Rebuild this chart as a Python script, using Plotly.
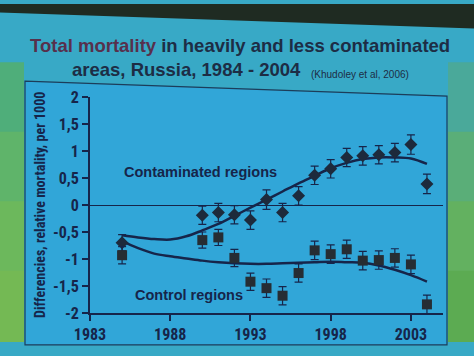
import plotly.graph_objects as go

# ---- data ----
years = [1985, 1990, 1991, 1992, 1993, 1994, 1995, 1996, 1997, 1998, 1999, 2000, 2001, 2002, 2003, 2004]
contaminated = [-0.70, -0.19, -0.14, -0.18, -0.28, 0.10, -0.14, 0.17, 0.55, 0.67, 0.88, 0.91, 0.93, 0.97, 1.12, 0.39]
contaminated_err = [0.15, 0.17, 0.17, 0.17, 0.17, 0.18, 0.17, 0.17, 0.17, 0.17, 0.17, 0.17, 0.17, 0.17, 0.18, 0.18]
control = [-0.93, -0.65, -0.60, -0.98, -1.42, -1.54, -1.68, -1.26, -0.84, -0.91, -0.82, -1.03, -1.02, -0.98, -1.10, -1.84]
control_err = [0.16, 0.15, 0.15, 0.16, 0.16, 0.17, 0.17, 0.17, 0.17, 0.17, 0.17, 0.17, 0.17, 0.17, 0.17, 0.17]

fit_years = list(range(1985, 2005))
contaminated_fit = [-0.56, -0.60, -0.63, -0.64, -0.58, -0.47, -0.35, -0.20, -0.05, 0.10, 0.25, 0.40,
                    0.54, 0.68, 0.78, 0.85, 0.88, 0.88, 0.86, 0.76]
control_fit = [-0.67, -0.80, -0.90, -0.95, -0.99, -1.03, -1.06, -1.08, -1.09, -1.09, -1.08, -1.07,
               -1.06, -1.05, -1.06, -1.07, -1.12, -1.20, -1.30, -1.42]

y_tickvals = [-2, -1.5, -1, -0.5, 0, 0.5, 1, 1.5, 2]
y_ticktext = ["-2", "-1,5", "-1", "-0,5", "0", "0,5", "1", "1,5", "2"]
x_tickvals = [1983, 1988, 1993, 1998, 2003]
x_ticktext = ["1983", "1988", "1993", "1998", "2003"]

# ---- figure geometry (pixels) ----
W, H = 474, 356
L, R, T, B = 90, 31, 97, 29
PW, PH = W - L - R, H - T - B


def px(x):
    return (x - L) / PW


def py(y):
    return (H - B - y) / PH


INK = "#16254a"
FONT = "Liberation Sans Narrow, Roboto Condensed, Liberation Sans, Arial"

fig = go.Figure()

fig.add_trace(go.Scatter(x=fit_years, y=contaminated_fit, mode="lines", line=dict(color=INK, width=2.5, shape="spline"),
                         hoverinfo="skip", showlegend=False))
fig.add_trace(go.Scatter(x=fit_years, y=control_fit, mode="lines", line=dict(color=INK, width=2.5, shape="spline"),
                         hoverinfo="skip", showlegend=False))
fig.add_trace(go.Scatter(x=years, y=contaminated, mode="markers",
                         marker=dict(symbol="diamond", size=10, color="#1d2a3c"),
                         error_y=dict(type="data", array=contaminated_err, color=INK, thickness=1.2, width=4),
                         showlegend=False))
fig.add_trace(go.Scatter(x=years, y=control, mode="markers",
                         marker=dict(symbol="square", size=10, color="#262d33"),
                         error_y=dict(type="data", array=control_err, color=INK, thickness=1.2, width=4),
                         showlegend=False))

shapes = []
# top dark band (slanted slide edge)
shapes.append(dict(type="path", xref="paper", yref="paper", layer="below",
                   path=f"M {px(0)} {py(-2)} L {px(W)} {py(-2)} L {px(W)} {py(24)} L {px(0)} {py(7)} Z",
                   fillcolor="#1f2b22", line=dict(width=0)))
# left green strip
greens_left = ["#4fae7a", "#5fb46a", "#6cb85c", "#74b954"]
for i, c in enumerate(greens_left):
    y0 = 60 + i * 74
    shapes.append(dict(type="rect", xref="paper", yref="paper", layer="below",
                       x0=px(-2), x1=px(24), y0=py(y0 + 76), y1=py(y0), fillcolor=c, line=dict(width=0)))
# right green strip
greens_right = ["#4aa99a", "#5aae78", "#63b160", "#5cab52"]
for i, c in enumerate(greens_right):
    y0 = 60 + i * 74
    shapes.append(dict(type="rect", xref="paper", yref="paper", layer="below",
                       x0=px(448), x1=px(W + 2), y0=py(y0 + 76), y1=py(y0), fillcolor=c, line=dict(width=0)))
# chart box
shapes.append(dict(type="path", xref="paper", yref="paper", layer="below",
                   path=f"M {px(25)} {py(80)} L {px(447)} {py(96)} L {px(447)} {py(H + 5)} L {px(25)} {py(H + 5)} Z",
                   fillcolor="#31a6d8", line=dict(color="#1c3d5a", width=1.2)))
fig.update_layout(shapes=shapes)

TITLE_FONT = "Liberation Sans, Arial"
annotations = [
    dict(x=px(240), y=py(42), xref="paper", yref="paper", showarrow=False,
         text="<b><span style='color:#57304c'>Total mortality</span> in heavily and less contaminated</b>",
         font=dict(family=TITLE_FONT, size=18.5, color="#1d2d45"), xanchor="center", yanchor="middle"),
    dict(x=px(70), y=py(68), xref="paper", yref="paper", showarrow=False,
         text="<b>areas, Russia, 1984 - 2004</b>",
         font=dict(family=TITLE_FONT, size=18.5, color="#1d2d45"), xanchor="left", yanchor="middle"),
    dict(x=px(309), y=py(73), xref="paper", yref="paper", showarrow=False,
         text="(Khudoley et al, 2006)",
         font=dict(family=TITLE_FONT, size=10, color="#1d2d45"), xanchor="left", yanchor="middle"),
    dict(x=px(122), y=py(177), xref="paper", yref="paper", showarrow=False,
         text="<b>Contaminated regions</b>",
         font=dict(family=TITLE_FONT, size=14.5, color="#16254a"), xanchor="left", yanchor="middle"),
    dict(x=px(133), y=py(308), xref="paper", yref="paper", showarrow=False,
         text="<b>Control regions</b>",
         font=dict(family=TITLE_FONT, size=14.5, color="#16254a"), xanchor="left", yanchor="middle"),
    dict(x=px(40), y=py(212), xref="paper", yref="paper", showarrow=False, textangle=-90,
         text="<b>Differencies, relative mortality, per 1000</b>",
         font=dict(family=FONT, size=14, color="#16254a"), xanchor="center", yanchor="middle"),
]
fig.update_layout(annotations=annotations)

fig.update_layout(
    width=W, height=H,
    margin=dict(l=L, r=R, t=T, b=B, pad=0),
    paper_bgcolor="#38a9c6",
    plot_bgcolor="rgba(0,0,0,0)",
    showlegend=False,
    xaxis=dict(range=[1983, 2005], tickvals=x_tickvals, ticktext=x_ticktext, showgrid=False, zeroline=False,
               showline=True, linecolor=INK, linewidth=2, ticks="outside", ticklen=6, tickwidth=2, tickcolor=INK,
               tickfont=dict(family=FONT, size=16, color=INK, weight="bold"), fixedrange=True),
    yaxis=dict(range=[-2, 2], tickvals=y_tickvals, ticktext=y_ticktext, showgrid=False,
               zeroline=True, zerolinecolor=INK, zerolinewidth=1.2,
               showline=True, linecolor=INK, linewidth=2, ticks="outside", ticklen=6, tickwidth=2, tickcolor=INK,
               tickfont=dict(family=FONT, size=16, color=INK, weight="bold"), fixedrange=True),
)

fig.write_html("out.html",
               config={"displayModeBar": False},
               post_script="document.body.style.margin='0';document.body.style.overflow='hidden';")
